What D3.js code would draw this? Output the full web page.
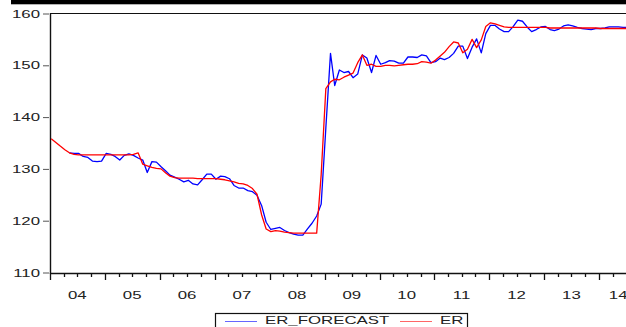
<!DOCTYPE html>
<html>
<head>
<meta charset="utf-8">
<script src="https://cdn.jsdelivr.net/npm/d3@7"></script>
<style>
  html, body { margin: 0; padding: 0; background: #fff; overflow: hidden; }
  svg { display: block; }
  text { font-family: "Liberation Sans", Arial, sans-serif; font-size: 10.2px; fill: #222; }
</style>
</head>
<body>
<div id="chart"></div>
<script>
// Monthly observations, 2004M01 onward
const startYear = 2004;
const yearLabels = ["04", "05", "06", "07", "08", "09", "10", "11", "12", "13", "14"];
const yTicks = [110, 120, 130, 140, 150, 160];
const seriesNames = ["ER_FORECAST", "ER"];

const er = [
  135.9, 135.2, 134.5, 133.8, 133.2, 132.9, 132.8, 132.8, 132.8, 132.8, 132.8, 132.8,
  132.8, 132.8, 132.8, 132.8, 132.8, 132.8, 132.9, 133.2, 131.0, 130.7, 130.4, 130.2,
  130.1, 129.3, 128.7, 128.4, 128.3, 128.3, 128.3, 128.3, 128.2, 128.2, 128.2, 128.2,
  128.2, 128.1, 128.0, 127.8, 127.6, 127.3, 127.2, 126.9, 126.3, 125.2, 121.2, 118.5,
  118.0, 118.2, 118.1, 117.9, 117.8, 117.7, 117.7, 117.7, 117.7, 117.7, 117.7, 129.0,
  145.6, 146.9, 147.4, 147.3, 147.8, 148.2, 148.6, 150.6, 152.1, 150.1, 150.3, 149.9,
  149.9, 150.1, 150.1, 150.0, 150.1, 150.2, 150.3, 150.3, 150.4, 150.8, 150.7, 150.5,
  151.1, 151.9, 152.6, 153.7, 154.6, 154.4, 152.5, 153.2, 155.1, 153.5, 155.0, 157.6,
  158.3, 158.1, 157.8, 157.5, 157.4, 157.4, 157.4, 157.4, 157.4, 157.4, 157.4, 157.4,
  157.4, 157.3, 157.3, 157.3, 157.3, 157.3, 157.3, 157.3, 157.3, 157.3, 157.3, 157.3,
  157.2, 157.2, 157.2, 157.2, 157.2, 157.2, 157.2
];

const erForecast = [
  null, null, null, null, 133.2, 133.1, 133.1, 132.5, 132.3, 131.6, 131.5, 131.6,
  133.1, 132.9, 132.5, 131.8, 132.7, 133.0, 132.7, 132.2, 131.8, 129.4, 131.5, 131.4,
  130.5, 129.7, 128.9, 128.5, 128.1, 127.6, 127.9, 127.2, 127.0, 128.0, 129.1, 129.1,
  128.1, 128.7, 128.6, 128.2, 126.9, 126.4, 126.4, 125.9, 125.7, 125.0, 123.0, 119.8,
  118.4, 118.6, 118.8, 118.2, 117.8, 117.5, 117.3, 117.3, 118.5, 119.6, 121.0, 123.3,
  138.0, 152.4, 146.2, 149.2, 148.7, 148.9, 147.7, 148.4, 152.1, 151.5, 148.7, 152.0,
  150.3, 150.6, 151.0, 150.9, 150.5, 150.5, 151.7, 151.7, 151.6, 152.1, 151.9, 150.6,
  150.8, 151.5, 151.2, 151.6, 152.4, 153.8, 153.8, 151.4, 153.6, 155.2, 152.5, 156.2,
  157.8, 157.8, 157.1, 156.6, 156.6, 157.6, 158.8, 158.6, 157.5, 156.6, 157.0, 157.5,
  157.6, 157.0, 156.8, 157.1, 157.7, 157.9, 157.7, 157.4, 157.2, 157.1, 157.0, 157.2,
  157.2, 157.3, 157.5, 157.5, 157.5, 157.4, 157.4
];

(function() {
  const W = 626, H = 327;
  const mLeft = 50, mTop = 13, mBottom = 273;
  const stretch = 1.65; // wide EViews-style lettering

  const dates = er.map((d, i) => new Date(startYear, i, 9));

  const x = d3.scaleTime()
    .domain([new Date(startYear, 0, 1), new Date(startYear + yearLabels.length, 0, 1)])
    .range([mLeft, 654]);

  const y = d3.scaleLinear().domain([110, 160]).range([mBottom, mTop + 1]);

  const svg = d3.select("#chart").append("svg")
    .attr("width", W).attr("height", H);

  // thick bar at the top (cut-off title area)
  svg.append("rect")
    .attr("x", 11).attr("y", 0).attr("width", W - 11).attr("height", 4.3)
    .attr("fill", "#000");

  // frame
  svg.append("line")
    .attr("x1", mLeft).attr("x2", W).attr("y1", mTop + 0.5).attr("y2", mTop + 0.5)
    .attr("stroke", "#111").attr("stroke-width", 1.2);
  svg.append("line")
    .attr("x1", mLeft + 0.5).attr("x2", mLeft + 0.5).attr("y1", mTop).attr("y2", mBottom + 1)
    .attr("stroke", "#111").attr("stroke-width", 1.4);
  svg.append("line")
    .attr("x1", mLeft).attr("x2", W).attr("y1", mBottom + 0.5).attr("y2", mBottom + 0.5)
    .attr("stroke", "#111").attr("stroke-width", 1.4);

  // y ticks + labels
  const yAxis = svg.append("g");
  yTicks.forEach(v => {
    yAxis.append("line")
      .attr("x1", 43).attr("x2", 49).attr("y1", y(v)).attr("y2", y(v))
      .attr("stroke", "#555").attr("stroke-width", 1);
    yAxis.append("text")
      .attr("transform", `translate(40,${y(v) + 3.6}) scale(${stretch},1)`)
      .attr("text-anchor", "end")
      .text(v);
  });

  // x ticks: quarters minor, years major
  const xAxis = svg.append("g");
  d3.timeMonth.every(3).range(x.domain()[0], x.domain()[1]).forEach(d => {
    const major = d.getMonth() === 0;
    const px = Math.round(x(d)) + 0.5;
    if (px > W) return;
    xAxis.append("line")
      .attr("x1", px).attr("x2", px)
      .attr("y1", mBottom).attr("y2", mBottom + (major ? 7 : 4))
      .attr("stroke", "#111").attr("stroke-width", 1.3);
  });
  yearLabels.forEach((lab, i) => {
    const mid = new Date(startYear + i, 6, 1);
    let cx = x(mid);
    if (cx + 8 > W) cx = x(new Date(startYear + i, 0, 1)) + 19; // last label pulled in
    xAxis.append("text")
      .attr("transform", `translate(${cx},299) scale(${stretch},1)`)
      .attr("text-anchor", "middle")
      .text(lab);
  });

  // lines
  const line = d3.line()
    .defined(d => d.v !== null)
    .x(d => x(d.date))
    .y(d => y(d.v));

  const plot = svg.append("g");
  plot.append("path")
    .datum(erForecast.map((v, i) => ({ date: dates[i], v })))
    .attr("fill", "none").attr("stroke", "#0000ff").attr("stroke-width", 1.3)
    .attr("stroke-linejoin", "round")
    .attr("d", line);
  plot.append("path")
    .datum(er.map((v, i) => ({ date: dates[i], v })))
    .attr("fill", "none").attr("stroke", "#ff0000").attr("stroke-width", 1.3)
    .attr("stroke-linejoin", "round")
    .attr("d", line);

  // legend
  const legend = svg.append("g");
  legend.append("rect")
    .attr("x", 215.5).attr("y", 313.5).attr("width", 252).attr("height", 20)
    .attr("fill", "#fff").attr("stroke", "#111").attr("stroke-width", 1.2);
  const legendItems = [
    { name: seriesNames[0], color: "#0000ff", x0: 225, tx: 265 },
    { name: seriesNames[1], color: "#ff0000", x0: 400, tx: 440 }
  ];
  legendItems.forEach(it => {
    legend.append("line")
      .attr("x1", it.x0).attr("x2", it.x0 + 32).attr("y1", 321.5).attr("y2", 321.5)
      .attr("stroke", it.color).attr("stroke-width", 1).attr("stroke-opacity", 0.6);
    legend.append("text")
      .attr("transform", `translate(${it.tx},324.3) scale(${stretch},1)`)
      .text(it.name);
  });
})();
</script>
</body>
</html>
